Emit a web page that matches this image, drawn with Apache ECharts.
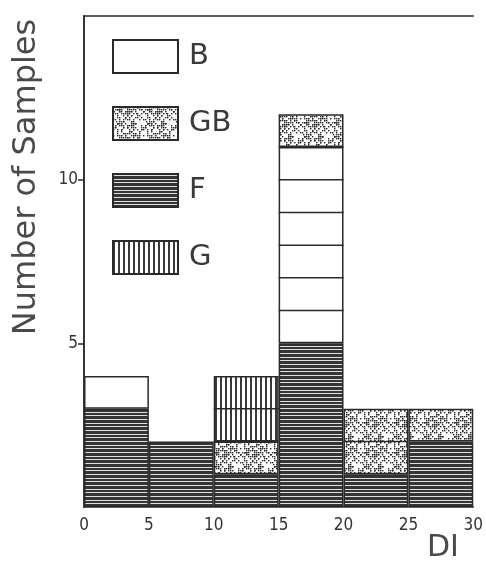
<!DOCTYPE html>
<html><head><meta charset="utf-8">
<script src="https://cdn.jsdelivr.net/npm/echarts@6/dist/echarts.min.js"></script>
<style>html,body{margin:0;padding:0;background:#fff}#c{width:486px;height:567px}</style>
</head><body><div id="c"></div>
<script>
// Data: bins of DI (width 5), counts per sample type, stacked bottom->top
const bins = ['0-5','5-10','10-15','15-20','20-25','25-30'];
const xTicks = [0,5,10,15,20,25,30];
const yTicks = [5,10];
const F_counts  = [3,2,1,5,1,2];
const GB_counts = [0,0,1,0,2,1];
const G_counts  = [0,0,2,0,0,0];
const B_counts  = [1,0,0,6,0,0];
const GBtop_counts = [0,0,0,1,0,0];

function mkCanvas(w,h,draw){const c=document.createElement('canvas');c.width=w;c.height=h;const g=c.getContext('2d');draw(g,w,h);return c;}
const patF = mkCanvas(12,11,(g,w,h)=>{g.fillStyle='#353535';g.fillRect(0,0,w,h);g.fillStyle='#e0e0e0';g.fillRect(0,1,w,1);g.fillRect(0,5,w,1);g.fillRect(0,8,w,1);});
const patG = mkCanvas(5,8,(g,w,h)=>{g.fillStyle='#fff';g.fillRect(0,0,w,h);g.fillStyle='#3a3a3a';g.fillRect(0,0,2,h);});
const patGB = mkCanvas(30,30,(g,w,h)=>{g.fillStyle='#fff';g.fillRect(0,0,w,h);g.fillStyle='#2a2a2a';
  let s=7;for(let k=0;k<170;k++){s=(s*1103515245+12345)&0x7fffffff;const x=s%w;s=(s*1103515245+12345)&0x7fffffff;const y=s%h;g.fillRect(x,y,1.4,1.4);}});
const fillF={image:patF,repeat:'repeat'}, fillG={image:patG,repeat:'repeat'}, fillGB={image:patGB,repeat:'repeat'};

const nz = a => a.map(v => v ? v : null);
const totals = bins.map((_,i)=>F_counts[i]+GB_counts[i]+G_counts[i]+B_counts[i]+GBtop_counts[i]);
const sepData=[];
totals.forEach((t,i)=>{for(let l=F_counts[i]+1;l<t;l++) sepData.push([i,l]);});

const ink='#2a2a2a';
const barBase = (name,data,fill)=>({name,type:'bar',stack:'s',xAxisIndex:0,yAxisIndex:0,barWidth:'100%',data:nz(data),
  itemStyle:{color:fill,borderColor:ink,borderWidth:1.5},emphasis:{disabled:true},z:2});

const chart=echarts.init(document.getElementById('c'),null,{renderer:'canvas'});
chart.setOption({
  animation:false,
  grid:{left:84,right:10,top:16,bottom:60},
  legend:{orient:'vertical',left:107,top:34,itemWidth:65,itemHeight:33,itemGap:32,icon:'rect',
    data:['B','GB','F','G'],selectedMode:false,
    textStyle:{fontSize:29,color:'#3a3a3a',fontFamily:'DejaVu Sans',padding:[0,0,0,6]}},
  xAxis:[
    {type:'category',data:bins,show:false,boundaryGap:true},
    {type:'value',min:0,max:30,interval:5,position:'bottom',
      axisLine:{show:true,lineStyle:{color:ink,width:1.5}},axisTick:{show:false},splitLine:{show:false},
      axisLabel:{margin:10,fontSize:17,color:'#333',fontFamily:'DejaVu Sans Condensed',customValues:xTicks}},
    {type:'value',min:0,max:30,position:'top',axisLine:{show:true,lineStyle:{color:ink,width:1.5}},
      axisTick:{show:false},axisLabel:{show:false},splitLine:{show:false}}
  ],
  yAxis:[
    {type:'value',min:0,max:15,position:'left',axisLine:{show:true,lineStyle:{color:ink,width:1.5}},
      axisTick:{show:true,length:6,lineStyle:{color:ink,width:1.5},customValues:yTicks},
      axisLabel:{margin:6,fontSize:17,color:'#333',fontFamily:'DejaVu Sans Condensed',customValues:yTicks},
      splitLine:{show:false}},
    {type:'value',min:0,max:15,position:'right',axisLine:{show:true,lineStyle:{color:ink,width:1.5}},
      axisTick:{show:true,inside:true,length:6,lineStyle:{color:ink,width:1.5},customValues:yTicks},
      axisLabel:{show:false},splitLine:{show:false}}
  ],
  graphic:[
    {type:'text',x:27,y:177,rotation:Math.PI/2,style:{text:'Number of Samples',font:'32px "DejaVu Sans"',fill:'#4a4a4a',align:'center',verticalAlign:'middle'}},
    {type:'text',left:427,top:533,style:{text:'DI',font:'30px "DejaVu Sans"',fill:'#4a4a4a'}}
  ],
  series:[
    barBase('F',F_counts,fillF),
    barBase('GB',GB_counts,fillGB),
    barBase('G',G_counts,fillG),
    barBase('B',B_counts,'#fff'),
    barBase('GB',GBtop_counts,fillGB),
    {type:'custom',xAxisIndex:0,yAxisIndex:0,data:sepData,z:5,silent:true,
      renderItem:(params,api)=>{const p=api.coord([api.value(0),api.value(1)]);const w=api.size([1,0])[0];
        return {type:'line',shape:{x1:p[0]-w/2,y1:p[1],x2:p[0]+w/2,y2:p[1]},style:{stroke:ink,lineWidth:1.5}};}}
  ]
});
</script></body></html>
